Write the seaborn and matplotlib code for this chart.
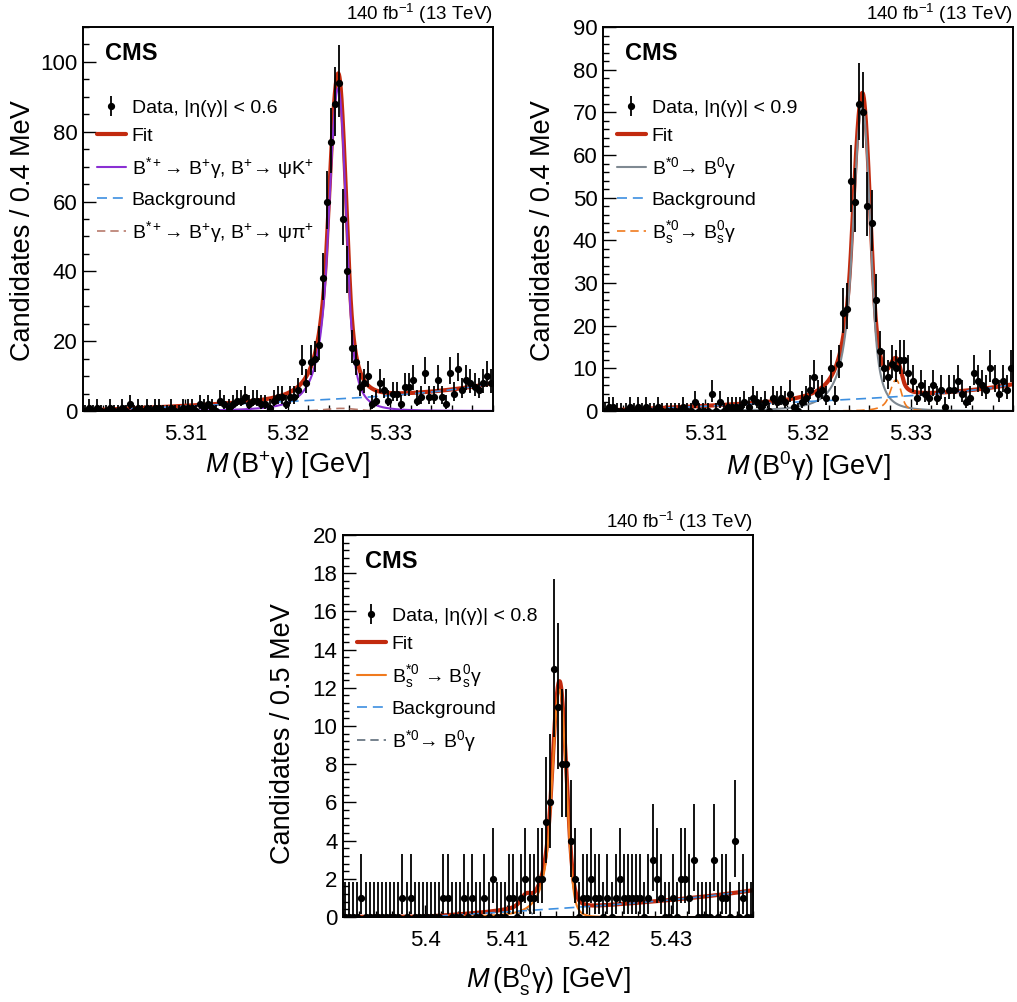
import numpy as np
import matplotlib
matplotlib.use('Agg')
import matplotlib.pyplot as plt
import seaborn as sns
from math import lgamma
from matplotlib.lines import Line2D
from matplotlib.ticker import MultipleLocator

# ---------------- data (counts per bin) ----------------
# B*+ -> B+ gamma : 100 bins of 0.4 MeV in [5.300, 5.340] GeV
bp_range = (5.300, 5.340)
bp_counts = [0, 1, 0, 1, 0, 0, 1, 0, 0, 1,
             0, 2, 0, 1, 0, 1, 0, 1, 1, 0,
             0, 1, 0, 0, 1, 1, 1, 0, 2, 1,
             2, 1, 0, 3, 2, 1, 2, 3, 3, 4,
             2, 3, 3, 2, 2, 1, 3, 4, 4, 2,
             4, 4, 6, 14, 8, 14, 15, 19, 38, 60,
             77, 88, 94, 55, 40, 18, 14, 7, 8, 10,
             2, 3, 8, 6, 3, 5, 5, 2, 7, 7,
             9, 3, 4, 11, 4, 4, 9, 4, 2, 11,
             5, 12, 6, 9, 8, 7, 6, 8, 10, 8]

# B*0 -> B0 gamma : 100 bins of 0.4 MeV in [5.300, 5.340] GeV
b0_range = (5.300, 5.340)
b0_counts = [0, 1, 1, 0, 0, 0, 1, 0, 1, 0,
             1, 0, 0, 1, 0, 0, 0, 0, 0, 1,
             0, 0, 2, 0, 0, 0, 4, 0, 2, 0,
             1, 1, 1, 1, 2, 1, 3, 2, 1, 2,
             0, 3, 2, 3, 2, 4, 1, 0, 2, 3,
             5, 8, 4, 5, 3, 10, 3, 11, 23, 24,
             54, 49, 72, 70, 48, 44, 26, 14, 10, 8,
             11, 10, 12, 12, 9, 7, 3, 6, 4, 3,
             6, 3, 5, 1, 5, 5, 7, 4, 2, 3,
             9, 7, 6, 5, 10, 7, 4, 7, 5, 10]

# Bs*0 -> Bs0 gamma : 100 bins of 0.5 MeV in [5.390, 5.440] GeV
bs_range = (5.390, 5.440)
bs_counts = [0, 0, 0, 0, 1, 0, 0, 0, 0, 0,
             0, 0, 0, 0, 1, 0, 1, 0, 0, 0,
             0, 0, 0, 0, 1, 1, 0, 0, 0, 1,
             0, 1, 0, 0, 1, 0, 2, 0, 0, 0,
             1, 1, 0, 1, 2, 1, 1, 2, 2, 5,
             6, 13, 11, 8, 8, 4, 2, 0, 1, 1,
             2, 1, 1, 0, 1, 0, 1, 2, 1, 1,
             1, 1, 1, 0, 1, 3, 2, 1, 0, 0,
             1, 0, 2, 2, 1, 3, 0, 0, 0, 0,
             3, 0, 1, 1, 0, 4, 0, 1, 0, 0]

# ---------------- fit model parameters ----------------
# peak: mean, sigma_left, sigma_right, alpha_L, n_L, alpha_R, n_R, amplitude
bp_sig = (5.3249, 0.00092, 0.00078, 1.2, 3.0, 1.5, 3.0, 92.5)
bp_pipi = (5.3252, 0.0015, 0.0015, 5.0, 5.0, 5.0, 5.0, 0.75)
# background: threshold, slope per MeV, end rise amplitude, end position (MeV), rise scale (MeV)
bp_bkg = (5.2995, 0.128, 2.8, 40.5, 6.0)

b0_sig = (5.3253, 0.00092, 0.00078, 1.2, 3.0, 1.5, 3.0, 71.5)
b0_bs = (5.3286, 0.00060, 0.00050, 1.2, 3.0, 1.5, 3.0, 7.3)
b0_bkg = (5.2995, 0.105, 2.0, 40.5, 6.0)

bs_sig = (5.4164, 0.00090, 0.00083, 1.2, 3.0, 2.0, 5.0, 11.9)
bs_b0 = (5.4123, 0.00060, 0.00055, 5.0, 5.0, 5.0, 5.0, 0.45)
bs_bkg = (5.4000, 0.025, 0.4, 40.0, 10.0)

RED = '#c22a0e'
PURPLE = '#8a2fd3'
BLUE = '#3d8fe0'
BROWN = '#b87a6c'
GREY = '#7f8992'
ORANGE = '#f07a1e'
DGREY = '#5f6d7a'


def dscb(x, mu, sl, sr, al, nl, ar, nr, amp):
    t = np.where(x < mu, (x - mu) / sl, (x - mu) / sr)
    out = np.exp(-0.5 * t ** 2)
    a_l = (nl / al) ** nl * np.exp(-0.5 * al ** 2)
    b_l = nl / al - al
    a_r = (nr / ar) ** nr * np.exp(-0.5 * ar ** 2)
    b_r = nr / ar - ar
    left = t < -al
    right = t > ar
    out[left] = a_l * (b_l - t[left]) ** (-nl)
    out[right] = a_r * (b_r + t[right]) ** (-nr)
    return amp * out


def bkg(x, thr, slope, c, d_end, tau):
    d = (x - thr) * 1000.0
    return slope * np.clip(d, 0, None) + c * np.exp((d - d_end) / tau)


def pois_cdf(k, mu):
    if mu <= 0:
        return 1.0
    j = np.arange(k + 1)
    lg = np.array([lgamma(v + 1) for v in j])
    return float(np.exp(-mu + j * np.log(mu) - lg).sum())


def garwood(n, cl=0.6827):
    a = 0.5 * (1 - cl)
    lo, hi = 0.0, n + 10 * np.sqrt(n + 1) + 10
    for _ in range(60):
        m = 0.5 * (lo + hi)
        if pois_cdf(n, m) > a:
            lo = m
        else:
            hi = m
    up = 0.5 * (lo + hi)
    if n == 0:
        return 0.0, up
    lo, hi = 0.0, float(n)
    for _ in range(60):
        m = 0.5 * (lo + hi)
        if 1 - pois_cdf(n - 1, m) < a:
            lo = m
        else:
            hi = m
    return 0.5 * (lo + hi), up


sns.set_theme(style='ticks')
plt.rcParams['font.family'] = ['Liberation Sans', 'DejaVu Sans']
plt.rcParams['mathtext.fontset'] = 'custom'
plt.rcParams['mathtext.rm'] = 'Liberation Sans'
plt.rcParams['mathtext.it'] = 'Liberation Sans:italic'
plt.rcParams['mathtext.bf'] = 'Liberation Sans:bold'
for key in ['text.color', 'axes.labelcolor', 'xtick.color', 'ytick.color',
            'axes.edgecolor']:
    plt.rcParams[key] = 'black'

fig = plt.figure(figsize=(10.17, 10.02), dpi=100)
W, H = 1017.0, 1002.0


def make_ax(left, top, right, bottom):
    return fig.add_axes([left / W, 1 - bottom / H, (right - left) / W, (bottom - top) / H])


def panel(ax, xr, counts, comps, labels, ymax, ymaj, ymin_, xticks, xticklabels,
          xlabel, ylabel, ylab_y, xlab_y):
    lo, hi = xr
    n = len(counts)
    centers = lo + (np.arange(n) + 0.5) * (hi - lo) / n
    xs = np.linspace(lo, hi, 3000)
    hpx = ax.get_position().height * H

    total = np.zeros_like(xs)
    for fn, pars, *_ in comps:
        total = total + fn(xs, *pars)

    sns.lineplot(x=xs, y=total, ax=ax, color=RED, linewidth=3.0,
                 estimator=None, sort=False)
    handles = []
    for fn, pars, color, lw, ls in comps:
        sns.lineplot(x=xs, y=fn(xs, *pars), ax=ax, color=color, linewidth=lw,
                     linestyle=ls, estimator=None, sort=False)
        handles.append(Line2D([], [], color=color, lw=lw, linestyle=ls))

    errs = np.array([garwood(c) for c in counts])
    yv = np.array(counts, dtype=float)
    eb = ax.errorbar(centers, yv, yerr=[yv - errs[:, 0], errs[:, 1] - yv],
                     fmt='o', color='black', markersize=4.2, elinewidth=1.3,
                     capsize=0, zorder=5, clip_on=True)

    ax.set_xlim(lo, hi)
    ax.set_ylim(0, ymax)
    ax.set_xticks(xticks)
    ax.set_xticklabels(xticklabels)
    ax.xaxis.set_minor_locator(MultipleLocator(0.002))
    ax.set_yticks(np.arange(0, ymax + 1e-9, ymaj))
    ax.yaxis.set_minor_locator(MultipleLocator(ymin_))
    ax.tick_params(axis='both', which='major', direction='in', length=9, width=1.0,
                   labelsize=16, top=False, right=False, color='black',
                   labelcolor='black')
    ax.tick_params(axis='both', which='minor', direction='in', length=4.5, width=1.0,
                   top=False, right=False, color='black')
    ax.tick_params(axis='x', which='major', pad=9)
    ax.tick_params(axis='y', which='major', pad=4)
    for s in ax.spines.values():
        s.set_linewidth(1.4)
        s.set_color('black')
        s.set_visible(True)
    ax.grid(False)
    ax.set_xlabel(xlabel, fontsize=19.5, color='black')
    ax.set_ylabel(ylabel, fontsize=19.5, color='black')
    ax.xaxis.set_label_coords(0.5, xlab_y)
    ax.yaxis.set_label_coords(-0.115, ylab_y)

    # order: Data, Fit, signal, Background, other
    fit_h = Line2D([], [], color=RED, lw=3.0)
    hs = [eb, fit_h, handles[0], handles[2], handles[1]]
    ax.legend(hs, labels, loc='upper left', bbox_to_anchor=(0.035, 1 - 72 / hpx),
              frameon=False, fontsize=14, handlelength=1.45, handletextpad=0.32,
              labelspacing=0.53, borderaxespad=0, borderpad=0, labelcolor='black')
    ax.text(0.054, 1 - 26.5 / hpx, 'CMS', transform=ax.transAxes, fontsize=17,
            fontweight='bold', ha='left', va='center', color='black')
    ax.text(1.0, 1 + 6.5 / hpx, r'140 fb$^{-1}$ (13 TeV)', transform=ax.transAxes,
            fontsize=13.5, ha='right', va='baseline', color='black')


dash_bkg = (0, (6, 3.5))
dash_other = (0, (5, 3))

ax1 = make_ax(83, 27, 493, 411)
panel(ax1, bp_range, bp_counts,
      [(dscb, bp_sig, PURPLE, 1.5, '-'),
       (dscb, bp_pipi, BROWN, 1.2, dash_other),
       (bkg, bp_bkg, BLUE, 1.2, dash_bkg)],
      ['Data, |η(γ)| < 0.6', 'Fit',
       r'B$^{*+}$→ B$^{+}$γ, B$^{+}$→ ψK$^{+}$', 'Background',
       r'B$^{*+}$→ B$^{+}$γ, B$^{+}$→ ψπ$^{+}$'],
      110, 20, 5, [5.31, 5.32, 5.33], ['5.31', '5.32', '5.33'],
      r'$\mathit{M}\,$(B$^{+}$γ) [GeV]', 'Candidates / 0.4 MeV', 0.47, -0.1)

ax2 = make_ax(603, 27, 1013, 411)
panel(ax2, b0_range, b0_counts,
      [(dscb, b0_sig, GREY, 1.5, '-'),
       (dscb, b0_bs, ORANGE, 1.2, dash_other),
       (bkg, b0_bkg, BLUE, 1.2, dash_bkg)],
      ['Data, |η(γ)| < 0.9', 'Fit', r'B$^{*0}$→ B$^{0}$γ', 'Background',
       r'B$_{\mathrm{s}}^{*0}$→ B$_{\mathrm{s}}^{0}$γ'],
      90, 10, 2, [5.31, 5.32, 5.33], ['5.31', '5.32', '5.33'],
      r'$\mathit{M}\,$(B$^{0}$γ) [GeV]', 'Candidates / 0.4 MeV', 0.47, -0.1)

ax3 = make_ax(343, 535, 753, 917)
panel(ax3, bs_range, bs_counts,
      [(dscb, bs_sig, ORANGE, 1.5, '-'),
       (dscb, bs_b0, DGREY, 1.2, dash_other),
       (bkg, bs_bkg, BLUE, 1.2, dash_bkg)],
      ['Data, |η(γ)| < 0.8', 'Fit',
       r'B$_{\mathrm{s}}^{*0}$ → B$_{\mathrm{s}}^{0}$γ', 'Background',
       r'B$^{*0}$→ B$^{0}$γ'],
      20, 2, 0.4, [5.40, 5.41, 5.42, 5.43], ['5.4', '5.41', '5.42', '5.43'],
      r'$\mathit{M}\,$(B$_{\mathrm{s}}^{0}$γ) [GeV]', 'Candidates / 0.5 MeV', 0.48, -0.12)

fig.savefig('out.png', dpi=100, facecolor='white')
